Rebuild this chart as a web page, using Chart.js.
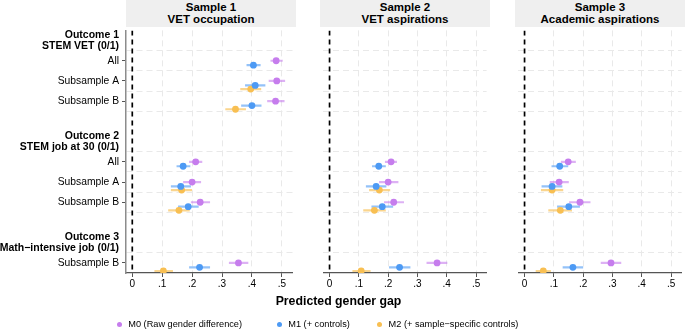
<!DOCTYPE html>
<html lang="en">

<head>
    <meta charset="UTF-8">
    <title>Predicted gender gap</title>
    <script src="https://cdn.jsdelivr.net/npm/chart.js@4"></script>
    <style>
        body { margin: 0; width: 685px; height: 330px; background: #fff; overflow: hidden; position: relative;
               font-family: "Liberation Sans", Arial, sans-serif; color: #000; }
        .panel { position: absolute; top: 27px; height: 268px; }
        .head { position: absolute; top: 0; width: 170px; height: 27px; background: #efefef; text-align: center;
                font-weight: bold; font-size: 11.5px; line-height: 11.5px; padding-top: 2px; box-sizing: border-box; }
        #xtitle { position: absolute; left: 0; width: 677px; top: 294px; text-align: center; font-weight: bold;
                  font-size: 12.3px; line-height: 15px; }
        .leg { position: absolute; top: 318px; font-size: 9.2px; line-height: 12px; white-space: nowrap; }
        .dot { position: absolute; top: 321.5px; width: 5px; height: 5px; border-radius: 50%; }
    </style>
</head>

<body>
    <div class="head" style="left:126px" id="h0"></div>
    <div class="head" style="left:320px" id="h1"></div>
    <div class="head" style="left:515px" id="h2"></div>
    <div class="panel" style="left:0"><canvas id="p0" width="296" height="268"></canvas></div>
    <div class="panel" style="left:320px"><canvas id="p1" width="170" height="268"></canvas></div>
    <div class="panel" style="left:515px"><canvas id="p2" width="170" height="268"></canvas></div>
    <div id="xtitle">Predicted gender gap</div>
    <div id="legend"></div>

    <script>
        // y axis rows (top to bottom) and their slot on the axis
        const rowLabels = ['All', 'Subsample A', 'Subsample B', 'All', 'Subsample A', 'Subsample B', 'Subsample B'];
        const rowPos = [0, 1, 2, 5, 6, 7, 10];
        const outcomeLabels = [['Outcome 1', 'STEM VET (0/1)'], ['Outcome 2', 'STEM job at 30 (0/1)'], ['Outcome 3', 'Math\u2212intensive job (0/1)']];
        const outcomePos = [-1, 4, 9];
        const xTicks = [0, 0.1, 0.2, 0.3, 0.4, 0.5];
        const xTickLabels = ['0', '.1', '.2', '.3', '.4', '.5'];
        const sampleTitles = [['Sample 1', 'VET occupation'], ['Sample 2', 'VET aspirations'], ['Sample 3', 'Academic aspirations']];
        const modelLabels = ['M0 (Raw gender difference)', 'M1 (+ controls)', 'M2 (+ sample\u2212specific controls)'];

        // Sample 1 - estimates and 95% CI
        const s1M0 = [0.481, 0.483, 0.479, 0.212, 0.200, 0.227, 0.355];
        const s1M0Lo = [0.462, 0.456, 0.451, 0.190, 0.170, 0.196, 0.323];
        const s1M0Hi = [0.503, 0.511, 0.509, 0.234, 0.230, 0.260, 0.388];
        const s1M1 = [0.405, 0.411, 0.400, 0.170, 0.162, 0.187, 0.225];
        const s1M1Lo = [0.382, 0.377, 0.364, 0.148, 0.129, 0.153, 0.190];
        const s1M1Hi = [0.429, 0.445, 0.432, 0.194, 0.196, 0.222, 0.260];
        const s1M2 = [null, 0.396, 0.345, null, 0.165, 0.156, 0.104];
        const s1M2Lo = [null, 0.361, 0.311, null, 0.129, 0.120, 0.074];
        const s1M2Hi = [null, 0.431, 0.380, null, 0.200, 0.192, 0.136];

        // Sample 2
        const s2M0 = [null, null, null, 0.210, 0.200, 0.219, 0.367];
        const s2M0Lo = [null, null, null, 0.189, 0.169, 0.186, 0.331];
        const s2M0Hi = [null, null, null, 0.230, 0.235, 0.254, 0.402];
        const s2M1 = [null, null, null, 0.168, 0.159, 0.180, 0.239];
        const s2M1Lo = [null, null, null, 0.145, 0.124, 0.143, 0.203];
        const s2M1Hi = [null, null, null, 0.192, 0.194, 0.217, 0.276];
        const s2M2 = [null, null, null, null, 0.170, 0.153, 0.108];
        const s2M2Lo = [null, null, null, null, 0.135, 0.115, 0.078];
        const s2M2Hi = [null, null, null, null, 0.207, 0.192, 0.140];

        // Sample 3
        const s3M0 = [null, null, null, 0.149, 0.118, 0.189, 0.295];
        const s3M0Lo = [null, null, null, 0.124, 0.086, 0.152, 0.260];
        const s3M0Hi = [null, null, null, 0.175, 0.151, 0.225, 0.330];
        const s3M1 = [null, null, null, 0.120, 0.094, 0.151, 0.165];
        const s3M1Lo = [null, null, null, 0.092, 0.058, 0.111, 0.130];
        const s3M1Hi = [null, null, null, 0.149, 0.129, 0.189, 0.200];
        const s3M2 = [null, null, null, null, 0.094, 0.122, 0.064];
        const s3M2Lo = [null, null, null, null, 0.056, 0.081, 0.038];
        const s3M2Hi = [null, null, null, null, 0.132, 0.162, 0.090];

        const pointColors = ['#c67ded', '#4d9af4', '#f8bf52'];
        const ciColors = ['rgba(198,125,237,0.6)', 'rgba(77,154,244,0.6)', 'rgba(248,191,82,0.65)'];
        const modelShift = [0, 0.22, 0.4];
        const gridColor = '#e9e9e9';

        Chart.defaults.font.family = "'Liberation Sans', Arial, sans-serif";
        Chart.defaults.color = '#000';

        const halfPos = rowPos.flatMap(p => [p - 0.5, p + 0.5]).filter((v, i, a) => v < 10.5 && a.indexOf(v) === i);
        const yTickVals = [...new Set([...outcomePos, ...rowPos, ...halfPos])].sort((a, b) => a - b);

        function makePanel(id, est, lo, hi, first) {
            const datasets = [];
            // points first so they sit on top
            est.forEach((vals, m) => {
                const pts = [];
                vals.forEach((v, i) => { if (v !== null) pts.push({ x: v, y: rowPos[i] + modelShift[m] }); });
                datasets.push({ data: pts, showLine: false, pointRadius: 3.4, pointHoverRadius: 3.4,
                    pointBackgroundColor: pointColors[m], pointBorderWidth: 0 });
            });
            est.forEach((vals, m) => {
                const seg = [];
                vals.forEach((v, i) => {
                    if (v === null) return;
                    const y = rowPos[i] + modelShift[m];
                    seg.push({ x: lo[m][i], y: y }, { x: hi[m][i], y: y }, { x: null, y: null });
                });
                datasets.push({ data: seg, borderColor: ciColors[m], borderWidth: 2.2, pointRadius: 0, spanGaps: false });
            });
            // reference line at zero
            datasets.push({ data: [{ x: 0, y: -1.5 }, { x: 0, y: 10.5 }], borderColor: '#000', borderWidth: 1.7,
                borderDash: [5, 4], pointRadius: 0 });

            new Chart(document.getElementById(id), {
                type: 'line',
                data: { datasets: datasets },
                options: {
                    responsive: false,
                    animation: false,
                    layout: { padding: 0 },
                    plugins: { legend: { display: false }, tooltip: { enabled: false } },
                    scales: {
                        x: {
                            type: 'linear', min: -0.021, max: 0.536,
                            afterBuildTicks: s => { s.ticks = xTicks.map(v => ({ value: v })); },
                            afterFit: s => { s.height = 22; s.paddingLeft = 0; s.paddingRight = 0; },
                            grid: {
                                color: c => (c.tick && c.tick.value === 0) ? 'rgba(0,0,0,0)' : gridColor,
                                tickColor: '#555', tickLength: 4, lineWidth: 1
                            },
                            border: { color: '#555', width: 1.2, dash: [6, 4] },
                            ticks: {
                                font: { size: 10 }, padding: 1, maxRotation: 0, autoSkip: false,
                                callback: (v, i) => xTickLabels[i]
                            }
                        },
                        y: {
                            type: 'linear', reverse: true, min: -1.5, max: 10.5,
                            afterBuildTicks: s => { s.ticks = yTickVals.map(v => ({ value: v })); },
                            afterFit: s => { s.width = first ? 126 : 0; s.paddingTop = 0; s.paddingBottom = 0; },
                            grid: {
                                color: c => (c.tick && halfPos.includes(c.tick.value)) ? gridColor : 'rgba(0,0,0,0)',
                                tickColor: c => (first && c.tick && rowPos.includes(c.tick.value)) ? '#555' : 'rgba(0,0,0,0)',
                                tickLength: 4, drawTicks: first, lineWidth: 1
                            },
                            border: { display: first, color: '#8c8c8c', width: 1.5, dash: [6, 4] },
                            ticks: {
                                display: first, autoSkip: false, padding: 3,
                                font: c => (c.tick && outcomePos.includes(c.tick.value))
                                    ? { size: 10.5, weight: 'bold', lineHeight: 1.06 } : { size: 10.3 },
                                callback: v => {
                                    const r = rowPos.indexOf(v);
                                    if (r >= 0) return rowLabels[r];
                                    const o = outcomePos.indexOf(v);
                                    if (o >= 0) return outcomeLabels[o];
                                    return '';
                                }
                            }
                        }
                    }
                }
            });
        }

        makePanel('p0', [s1M0, s1M1, s1M2], [s1M0Lo, s1M1Lo, s1M2Lo], [s1M0Hi, s1M1Hi, s1M2Hi], true);
        makePanel('p1', [s2M0, s2M1, s2M2], [s2M0Lo, s2M1Lo, s2M2Lo], [s2M0Hi, s2M1Hi, s2M2Hi], false);
        makePanel('p2', [s3M0, s3M1, s3M2], [s3M0Lo, s3M1Lo, s3M2Lo], [s3M0Hi, s3M1Hi, s3M2Hi], false);

        // panel headers
        sampleTitles.forEach((t, i) => {
            document.getElementById('h' + i).innerHTML = t[0] + '<br>' + t[1];
        });

        // legend
        const legLeft = [116.5, 276.5, 376.8];
        const legend = document.getElementById('legend');
        modelLabels.forEach((lab, i) => {
            const dot = document.createElement('div');
            dot.className = 'dot';
            dot.style.left = legLeft[i] + 'px';
            dot.style.background = pointColors[i];
            legend.appendChild(dot);
            const txt = document.createElement('div');
            txt.className = 'leg';
            txt.style.left = (legLeft[i] + 11.8) + 'px';
            txt.textContent = lab;
            legend.appendChild(txt);
        });
    </script>
</body>

</html>
